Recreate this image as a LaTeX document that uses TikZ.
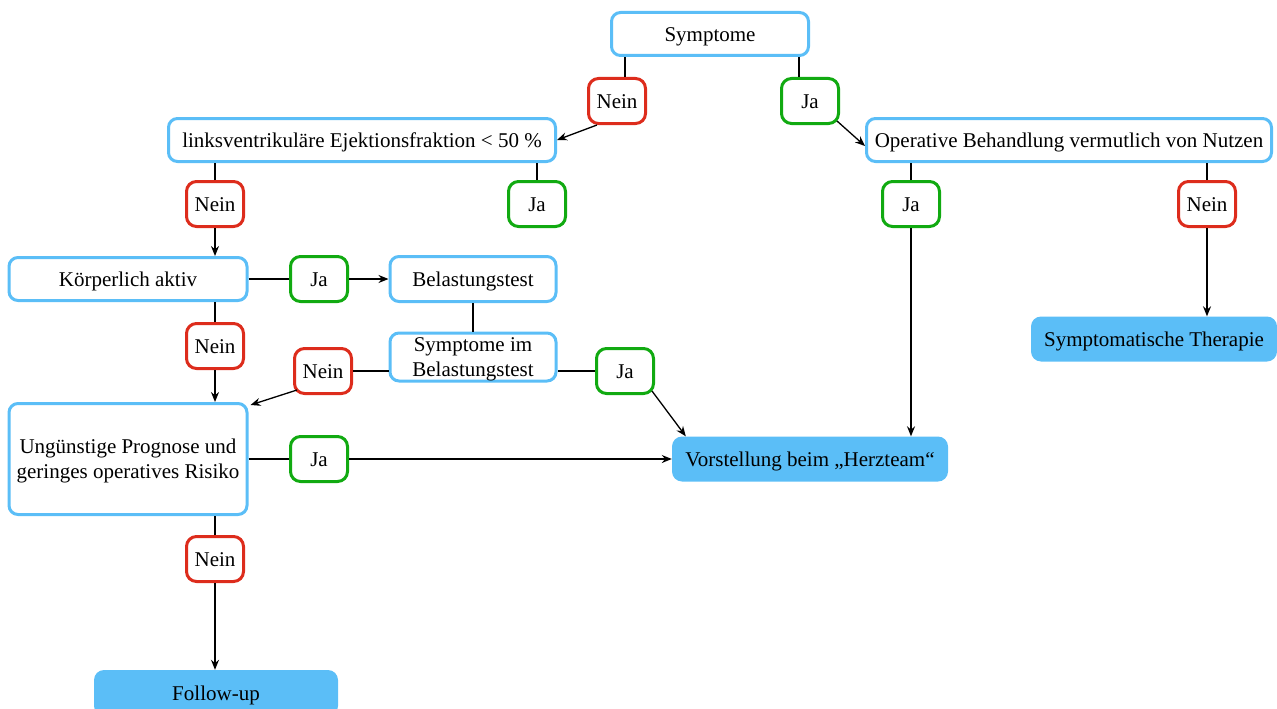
\documentclass[tikz,border=0pt]{standalone}
\usepackage{fontspec}
\setmainfont{Liberation Serif}
\usetikzlibrary{arrows.meta}
\definecolor{bl}{HTML}{5BBEF7}
\definecolor{rd}{HTML}{DD2C1C}
\definecolor{gn}{HTML}{11AA11}
\begin{document}
\begin{tikzpicture}[x=1pt,y=-1pt,
  every node/.style={font=\fontsize{21}{25}\selectfont, inner sep=0pt, align=center, text height=15.5pt, text depth=0pt},
  multi/.style={text height={}},
  box/.style={draw=bl, line width=3pt, fill=white, rounded corners=9pt},
  endbox/.style={fill=bl, rounded corners=10pt},
  no/.style={draw=rd, line width=3pt, fill=white, rounded corners=10pt, minimum width=57pt, minimum height=45pt},
  yes/.style={draw=gn, line width=3pt, fill=white, rounded corners=10pt, minimum width=57pt, minimum height=45pt},
  ln/.style={line width=1.3pt},
  arr/.style={ln, -{Stealth[length=10pt,width=8pt]}}
]
\useasboundingbox (0,0) rectangle (1277,709);
\node[box, minimum width=197, minimum height=43] (sym) at (710,34) {Symptome};
\node[no] (n1) at (617,101) {Nein};
\node[yes] (j1) at (810,101) {Ja};
\node[box, minimum width=387, minimum height=43] (lv) at (362,140) {linksventrikuläre Ejektionsfraktion < 50 \%};
\node[box, minimum width=405, minimum height=43] (op) at (1069,140) {Operative Behandlung vermutlich von Nutzen};
\node[no] (n2) at (215,204) {Nein};
\node[yes] (j2) at (537,204) {Ja};
\node[yes] (j3) at (911,204) {Ja};
\node[no] (n3) at (1207,204) {Nein};
\node[box, minimum width=238, minimum height=43] (ka) at (128,279) {Körperlich aktiv};
\node[yes] (j4) at (319,279) {Ja};
\node[box, minimum width=166, minimum height=45] (bt) at (473,279) {Belastungstest};
\node[no] (n4) at (215,346) {Nein};
\node[box, multi, minimum width=166, minimum height=48] (sb) at (473,357) {Symptome im\\Belastungstest};
\node[no] (n5) at (323,371) {Nein};
\node[yes] (j5) at (625,371) {Ja};
\node[box, multi, minimum width=238, minimum height=111] (up) at (128,459) {Ungünstige Prognose und\\geringes operatives Risiko};
\node[yes] (j6) at (319,459) {Ja};
\node[endbox, minimum width=276, minimum height=45] (vh) at (810,459) {Vorstellung beim „Herzteam“};
\node[endbox, minimum width=246, minimum height=45] (st) at (1154,339) {Symptomatische Therapie};
\node[no] (n6) at (215,559) {Nein};
\node[endbox, minimum width=244, minimum height=46] (fu) at (216,693) {Follow-up};

\draw[ln] ([xshift=8pt]n1.north) -- ([xshift=8pt]n1.north |- sym.south);
\draw[arr] ([xshift=-20pt]n1.south) -- (lv.east);
\draw[ln] ([xshift=-11pt]j1.north) -- ([xshift=-11pt]j1.north |- sym.south);
\draw[arr] ([xshift=-3pt,yshift=4pt]j1.south east) -- ([yshift=-6pt]op.west);
\draw[ln] (n2.north) -- (n2.north |- lv.south);
\draw[arr] (n2.south) -- (n2.south |- ka.north);
\draw[ln] (j2.north) -- (j2.north |- lv.south);
\draw[ln] (j3.north) -- (j3.north |- op.south);
\draw[arr] (j3.south) -- (j3.south |- vh.north);
\draw[ln] (n3.north) -- (n3.north |- op.south);
\draw[arr] (n3.south) -- (n3.south |- st.north);
\draw[ln] (ka.east) -- (j4.west);
\draw[arr] (j4.east) -- (bt.west);
\draw[ln] (bt.south) -- (sb.north);
\draw[ln] (n4.north) -- (n4.north |- ka.south);
\draw[arr] (n4.south) -- (n4.south |- up.north);
\draw[ln] (n5.east) -- (n5.east -| sb.west);
\draw[arr] ([xshift=4pt,yshift=5pt]n5.south west) -- ([xshift=2pt,yshift=-3pt]up.north east);
\draw[ln] (j5.west) -- (j5.west -| sb.east);
\draw[arr] ([xshift=-3pt,yshift=4pt]j5.south east) -- ([xshift=14pt]vh.north west);
\draw[ln] (up.east) -- (j6.west);
\draw[arr] (j6.east) -- (vh.west);
\draw[ln] (n6.north) -- (n6.north |- up.south);
\draw[arr] (n6.south) -- (n6.south |- fu.north);
\end{tikzpicture}
\end{document}
